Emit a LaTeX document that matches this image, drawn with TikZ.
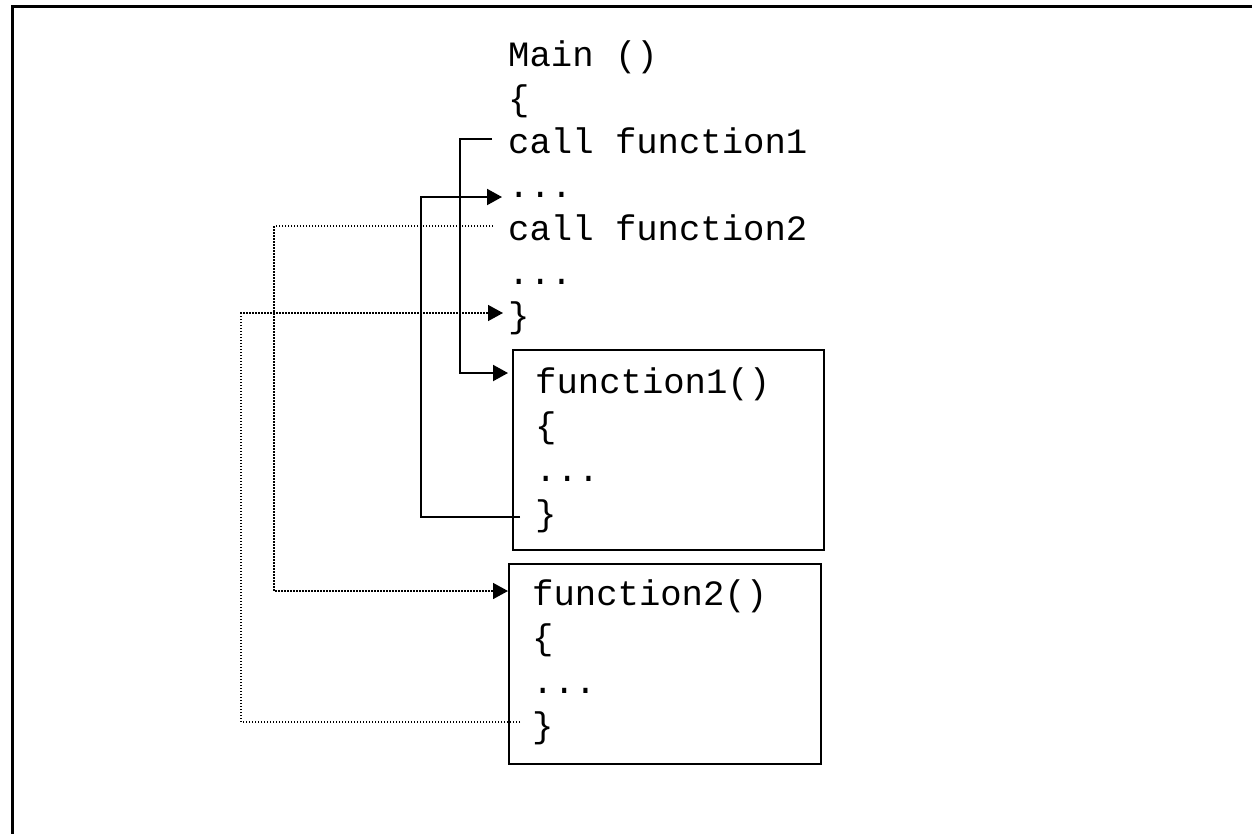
\documentclass[tikz,border=0pt]{standalone}
\usepackage{fontspec}
\setmonofont{Liberation Mono}
\usetikzlibrary{arrows.meta,calc}
\begin{document}
\begin{tikzpicture}[x=1pt,y=-1pt,
  code/.style={inner sep=0pt,anchor=base west,font=\ttfamily\fontsize{35.6}{43.6}\selectfont},
  fbox/.style={draw,line width=2pt,anchor=north west,inner sep=0pt},
  solidcon/.style={line width=2pt,-{Triangle[length=15pt,width=16pt]}},
  dotcon/.style={line width=1.5pt,dash pattern=on 1.5pt off 1.5pt,-{Triangle[length=15pt,width=16pt]}}]
\useasboundingbox (0,0) rectangle (1252,833);
\draw[line width=3pt] (1260,6) -- (12,6) -- (12,840);
% main code
\node[code] (main) at (508,66) {Main ()};
\node[code] (mopen) at (508,110) {\{};
\node[code] (call1) at (508,153) {call function1};
\node[code] (dots1) at (508,197) {...};
\node[code] (call2) at (508,240) {call function2};
\node[code] (dots2) at (508,284) {...};
\node[code] (mclose) at (508,327) {\}};
% function1 box
\node[fbox,minimum width=311pt,minimum height=200pt] (box1) at (512,349) {};
\node[code] (f1name) at (535,393) {function1()};
\node[code] (f1open) at (535,437) {\{};
\node[code] (f1dots) at (535,481) {...};
\node[code] (f1close) at (535,525) {\}};
% function2 box
\node[fbox,minimum width=312pt,minimum height=200pt] (box2) at (508,563) {};
\node[code] (f2name) at (532,605) {function2()};
\node[code] (f2open) at (532,649) {\{};
\node[code] (f2dots) at (532,693) {...};
\node[code] (f2close) at (532,737) {\}};
% coordinates
\coordinate (c1s) at ($(call1.base west)+(-16,-14)$);
\coordinate (c1t) at ($(box1.north west)+(-4,24)$);
\coordinate (r1s) at ($(f1close.base west)+(-15,-8)$);
\coordinate (r1t) at ($(dots1.base west)+(-6,0)$);
\coordinate (c2s) at ($(call2.base west)+(-15,-14)$);
\coordinate (c2t) at ($(box2.north west)+(0,28)$);
\coordinate (r2s) at ($(f2close.base west)+(-12,-15)$);
\coordinate (r2t) at ($(mclose.base west)+(-5,-14)$);
% connectors
\draw[solidcon] (c1s) -- (c1s -| 460,0) |- (c1t);
\draw[solidcon] (r1s) -- (r1s -| 421,0) |- (r1t);
\draw[dotcon] (c2s) -- (c2s -| 274,0) |- (c2t);
\draw[dotcon] (r2s) -- (r2s -| 241,0) |- (r2t);
\end{tikzpicture}
\end{document}
